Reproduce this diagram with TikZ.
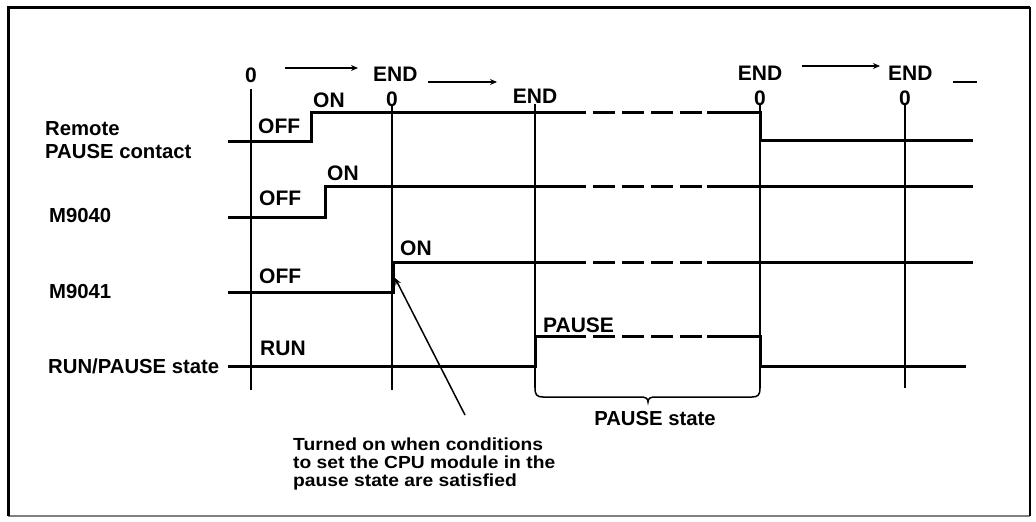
\documentclass[tikz,border=0pt]{standalone}
\usepackage{fontspec}
\setmainfont{Liberation Sans}
\newfontfamily\annofont{Liberation Sans}[FakeStretch=1.1]
\usetikzlibrary{arrows.meta}
\begin{document}
\begin{tikzpicture}[x=1pt,y=-1pt,
  lbl/.style={inner sep=0pt,font=\fontsize{21}{24}\selectfont\bfseries},
  sname/.style={inner sep=0pt,font=\fontsize{20.3}{24}\selectfont\bfseries},
  sig/.style={line width=3pt,line join=miter,line cap=butt},
  sigd/.style={line width=3pt,dash pattern=on 22pt off 7pt},
  tmark/.style={line width=2pt},
  arr/.style={line width=1.5pt,-{Stealth[length=7pt,width=6pt]}}]
\useasboundingbox (0,0) rectangle (1036,522);
% frame
\draw[line width=1.5pt,gray] (8,516) -- (1030,516);
\draw[line width=2pt] (1030,7) -- (1030,516);
\draw[line width=3pt] (8,516) -- (8,7) -- (1030,7);
% top labels
\node[lbl,anchor=base] (t0) at (251,82) {0};
\node[lbl,anchor=base west] (tE1) at (373,81) {END};
\node[lbl,anchor=base] (t0b) at (392,106) {0};
\node[lbl,anchor=base] (tE2) at (535,103) {END};
\node[lbl,anchor=base] (tE3) at (760,80) {END};
\node[lbl,anchor=base] (t0c) at (760,105) {0};
\node[lbl,anchor=base west] (tE4) at (888,80) {END};
\node[lbl,anchor=base] (t0d) at (905,105) {0};
\coordinate (a1s) at (285,68); \coordinate (a1e) at (358,68);
\coordinate (a2s) at (428,82); \coordinate (a2e) at (497,82);
\coordinate (a3s) at (802,66); \coordinate (a3e) at (880,66);
\coordinate (cs) at (953,82); \coordinate (ce) at (977,82);
\draw[arr] (a1s) -- (a1e);
\draw[arr] (a2s) -- (a2e);
\draw[arr] (a3s) -- (a3e);
\draw[line width=1.5pt] (cs) -- (ce);
% vertical markers
\draw[tmark] (251,89) -- (251,390);
\draw[tmark] (t0b.south) -- (392,390);
\draw[tmark] (535,104) -- (535,388);
\draw[tmark] (t0c.south) -- (760,388);
\draw[tmark] (t0d.south) -- (905,388);
% left names
\node[sname,anchor=base west] (nR1) at (45,135) {Remote};
\node[sname,anchor=base west] (nR2) at (45,158) {PAUSE contact};
\node[sname,anchor=base west] (nM0) at (49,222) {M9040};
\node[sname,anchor=base west] (nM1) at (49,298) {M9041};
\node[sname,anchor=base west] (nRP) at (48,373) {RUN/PAUSE state};
% signals
\draw[sig] (228,141) -- (311,141) -- (311,112) -- (586,112);
\draw[sigd] (593,112) -- (702,112);
\draw[sig] (707,112) -- (760,112) -- (760,140) -- (973,140);
\draw[sig] (228,217) -- (325,217) -- (325,186) -- (586,186);
\draw[sigd] (593,186) -- (702,186);
\draw[sig] (707,186) -- (973,186);
\draw[sig] (228,292) -- (393,292) -- (393,262) -- (586,262);
\draw[sigd] (593,262) -- (702,262);
\draw[sig] (707,262) -- (973,262);
\draw[sig] (228,366) -- (535,366) -- (535,336) -- (586,336);
\draw[sigd] (593,336) -- (702,336);
\draw[sig] (707,336) -- (760,336) -- (760,366) -- (966,366);
% state labels
\node[lbl,anchor=base west] (rOff) at (258,133) {OFF};
\node[lbl,anchor=base west] (rOn) at (313,107) {ON};
\node[lbl,anchor=base west] (m0Off) at (259,205) {OFF};
\node[lbl,anchor=base west] (m0On) at (327,180) {ON};
\node[lbl,anchor=base west] (m1Off) at (259,283) {OFF};
\node[lbl,anchor=base west] (m1On) at (400,255) {ON};
\node[lbl,anchor=base west] (run) at (260,355) {RUN};
\node[lbl,anchor=base west] (pause) at (543,332) {PAUSE};
% brace
\draw[line width=1.5pt] (535,388) .. controls (535,395) and (537,397) .. (543,397) -- (641,397)
  .. controls (645,397) and (648,398) .. (648,402)
  .. controls (648,398) and (651,397) .. (655,397) -- (752,397)
  .. controls (758,397) and (760,395) .. (760,388);
\node[sname,anchor=base] (ps) at (655,425) {PAUSE state};
% annotation
\node[inner sep=0pt,anchor=north west,align=left,font=\annofont\bfseries\fontsize{17.5}{18}\selectfont] (anno) at (293,438)
  {Turned on when conditions\\to set the CPU module in the\\pause state are satisfied};
\coordinate (tail) at (465,415);
\coordinate (tip) at (395,278);
\draw[arr] (tail) -- (tip);
\end{tikzpicture}
\end{document}
